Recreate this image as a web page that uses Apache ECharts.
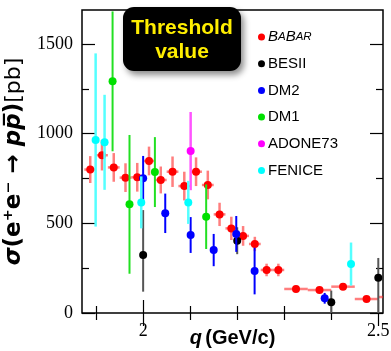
<!DOCTYPE html>
<html>
<head>
<meta charset="UTF-8">
<script src="https://cdn.jsdelivr.net/npm/echarts@6.0.0/dist/echarts.min.js"></script>
<style>
  body { margin: 0; padding: 0; background: #ffffff; }
  #chart { width: 391px; height: 351px; }
</style>
</head>
<body>
<div id="chart"></div>
<script>
// BaBar: q (GeV/c), sigma (pb), symmetric error, half bin width
const babarQ = [1.8875, 1.9125, 1.9375, 1.9625, 1.9875, 2.0125, 2.0375, 2.0625, 2.0875, 2.1125, 2.1375,
  2.1625, 2.1875, 2.2125, 2.2375, 2.2625, 2.2875, 2.325, 2.375, 2.425, 2.475, 2.525];
const babarSigma = [800, 880, 812, 755, 757, 848, 742, 788, 708, 788, 714, 550, 472, 430, 385, 240, 240, 134, 128, 147, 78, 89];
const babarErr = [75, 85, 80, 80, 80, 80, 75, 85, 80, 80, 80, 65, 65, 55, 40, 35, 35, 15, 15, 15, 15, 15];
const babarHalfBin = [0.0125, 0.0125, 0.0125, 0.0125, 0.0125, 0.0125, 0.0125, 0.0125, 0.0125, 0.0125, 0.0125,
  0.0125, 0.0125, 0.0125, 0.0125, 0.0125, 0.0125, 0.025, 0.025, 0.025, 0.025, 0.025];

const besQ = [2.0, 2.2, 2.4, 2.5];
const besSigma = [323, 403, 60, 197];
const besErrLo = [204, 75, 60, 197];
const besErrHi = [251, 75, 65, 110];

const dm2Q = [2.0, 2.047, 2.101, 2.15, 2.198, 2.237, 2.386];
const dm2Sigma = [751, 556, 435, 351, 441, 234, 82];
const dm2Err = [125, 110, 100, 90, 100, 130, 30];

const dm1Q = [1.935, 1.971, 2.025, 2.134];
const dm1Sigma = [1292, 606, 786, 537];
const dm1Err = [390, 387, 195, 180];

const adoneQ = [2.101];
const adoneSigma = [903];
const adoneErr = [218];

const feniceQ = [1.899, 1.918, 1.996, 2.096, 2.442];
const feniceSigma = [965, 952, 617, 617, 273];
const feniceErr = [483, 265, 145, 120, 120];

const xMajor = [2.0, 2.5];
const xMinor = [1.9, 2.1, 2.2, 2.3, 2.4];
const yMajor = [0, 500, 1000, 1500];
const yMinor = [250, 750, 1250];

const X_MIN = 1.87, X_MAX = 2.51, Y_MIN = 0, Y_MAX = 1690;

function rows(q, v, lo, hi, hw) {
  return q.map((x, i) => [x, v[i], lo[i], hi ? hi[i] : lo[i], hw ? hw[i] : 0]);
}

const sets = [
  { name: 'BABAR', data: rows(babarQ, babarSigma, babarErr, null, babarHalfBin), color: '#ff0000', bar: 'rgba(255,40,40,0.6)', bw: 2.5 },
  { name: 'BESII', data: rows(besQ, besSigma, besErrLo, besErrHi), color: '#000000', bar: '#555555', bw: 2 },
  { name: 'DM2', data: rows(dm2Q, dm2Sigma, dm2Err), color: '#0000ff', bar: '#0000ff', bw: 2 },
  { name: 'DM1', data: rows(dm1Q, dm1Sigma, dm1Err), color: '#00e000', bar: '#22e022', bw: 2 },
  { name: 'ADONE73', data: rows(adoneQ, adoneSigma, adoneErr), color: '#ff00ff', bar: '#ff55ff', bw: 2.5 },
  { name: 'FENICE', data: rows(feniceQ, feniceSigma, feniceErr), color: '#00ffff', bar: '#55ffff', bw: 2.5 }
];

function errRender(color, width) {
  return function (params, api) {
    const q = api.value(0), v = api.value(1), lo = api.value(2), hi = api.value(3), hw = api.value(4);
    const cs = params.coordSys;
    const rect = { x: cs.x, y: cs.y, width: cs.width, height: cs.height };
    const children = [];
    const style = { stroke: color, lineWidth: width };
    if (q >= X_MIN && q <= X_MAX) {
      const p = echarts.graphic.clipPointsByRect([api.coord([q, v + hi]), api.coord([q, v - lo])], rect);
      children.push({ type: 'line', shape: { x1: p[0][0], y1: p[0][1], x2: p[1][0], y2: p[1][1] }, style });
    }
    if (hw > 0 && q - hw < X_MAX) {
      const p = echarts.graphic.clipPointsByRect([api.coord([q - hw, v]), api.coord([q + hw, v])], rect);
      children.push({ type: 'line', shape: { x1: p[0][0], y1: p[0][1], x2: p[1][0], y2: p[1][1] }, style });
    }
    return { type: 'group', children };
  };
}

const series = [];
sets.forEach((s, i) => {
  series.push({
    type: 'custom', name: s.name + ' err', xAxisIndex: 0, yAxisIndex: 0, z: 2 + i * 2,
    renderItem: errRender(s.bar, s.bw), data: s.data, silent: true
  });
  series.push({
    type: 'scatter', name: s.name, xAxisIndex: 0, yAxisIndex: 0, z: 3 + i * 2,
    symbolSize: 8, itemStyle: { color: s.color, opacity: 1 }, data: s.data.map(d => [d[0], d[1]])
  });
});

const tickStyle = { color: '#000', width: 1.2 };
function xAxis(pos, ticks, len, labels) {
  return {
    type: 'value', min: X_MIN, max: X_MAX, position: pos, gridIndex: 0,
    axisLine: { show: false },
    axisTick: { show: true, inside: true, length: len, customValues: ticks, lineStyle: tickStyle },
    axisLabel: labels ? {
      show: true, customValues: ticks, margin: 9, color: '#000',
      fontFamily: 'Liberation Serif', fontSize: 18, formatter: v => String(v)
    } : { show: false },
    splitLine: { show: false }
  };
}
function yAxis(pos, ticks, len, labels) {
  return {
    type: 'value', min: Y_MIN, max: Y_MAX, position: pos, gridIndex: 0,
    axisLine: { show: false },
    axisTick: { show: true, inside: true, length: len, customValues: ticks, lineStyle: tickStyle },
    axisLabel: labels ? {
      show: true, customValues: ticks, margin: 9, color: '#000',
      fontFamily: 'Liberation Serif', fontSize: 18, formatter: v => String(v)
    } : { show: false },
    splitLine: { show: false }
  };
}

const xs = [xAxis('bottom', xMajor, 13, true), xAxis('bottom', xMinor, 7, false), xAxis('top', xMajor, 13, false), xAxis('top', xMinor, 7, false)];
xs[0].name = '{i|q} {n|(GeV/c)}';
xs[0].nameLocation = 'middle';
xs[0].nameGap = 15;
xs[0].nameMoveOverlap = false;
xs[0].nameTextStyle = {
  verticalAlign: 'top',
  rich: {
    i: { fontFamily: 'Liberation Sans', fontWeight: 'bold', fontStyle: 'italic', fontSize: 20, color: '#000' },
    n: { fontFamily: 'Liberation Sans', fontWeight: 'bold', fontSize: 20, color: '#000' }
  }
};
const ys = [yAxis('left', yMajor, 13, true), yAxis('left', yMinor, 7, false), yAxis('right', yMajor, 13, false), yAxis('right', yMinor, 7, false)];
ys[0].name = '{i|σ}{n|(e⁺e⁻ → }{i|pp\u0305}{n|)}{r|[pb]}';
ys[0].nameLocation = 'middle';
ys[0].nameRotate = 90;
ys[0].nameGap = 56;
ys[0].nameMoveOverlap = false;
ys[0].nameTextStyle = {
  rich: {
    i: { fontFamily: 'DejaVu Sans', fontWeight: 'bold', fontStyle: 'italic', fontSize: 23, color: '#000' },
    n: { fontFamily: 'DejaVu Sans', fontWeight: 'bold', fontSize: 23, color: '#000' },
    r: { fontFamily: 'DejaVu Sans', fontSize: 22, color: '#000' }
  }
};

const chart = echarts.init(document.getElementById('chart'));
chart.setOption({
  animation: false,
  backgroundColor: '#ffffff',
  grid: {
    left: 82, right: 8, top: 10, bottom: 38, outerBoundsMode: 'none',
    show: true, borderColor: '#000', borderWidth: 1.5, backgroundColor: 'transparent'
  },
  xAxis: xs,
  yAxis: ys,
  legend: {
    data: sets.map(s => ({ name: s.name, icon: 'circle' })),
    orient: 'vertical', left: 253, top: 24, itemWidth: 7, itemHeight: 7, itemGap: 10.7,
    selectedMode: false,
    formatter: n => n === 'BABAR' ? '{b|B}{s|A}{b|B}{s|AR}' : n,
    textStyle: {
      fontFamily: 'Liberation Sans', fontSize: 15, color: '#000', lineHeight: 16, padding: [0, 0, 0, -2],
      rich: {
        b: { fontFamily: 'Liberation Sans', fontStyle: 'italic', fontSize: 15, color: '#000' },
        s: { fontFamily: 'Liberation Sans', fontStyle: 'italic', fontSize: 11.5, color: '#000' }
      }
    }
  },
  graphic: [{
    type: 'group', left: 123, top: 7, z: 100,
    children: [
      {
        type: 'rect', shape: { x: 0, y: 0, width: 118, height: 64, r: 11 },
        style: { fill: '#000', shadowBlur: 6, shadowOffsetX: 3, shadowOffsetY: 4, shadowColor: 'rgba(0,0,0,0.45)' }
      },
      {
        type: 'text', x: 59, y: 21,
        style: { text: 'Threshold', fill: '#ffee00', font: 'bold 21px "Liberation Sans"', align: 'center', verticalAlign: 'middle' }
      },
      {
        type: 'text', x: 59, y: 45,
        style: { text: 'value', fill: '#ffee00', font: 'bold 21px "Liberation Sans"', align: 'center', verticalAlign: 'middle' }
      }
    ]
  }],
  series
});
</script>
</body>
</html>
